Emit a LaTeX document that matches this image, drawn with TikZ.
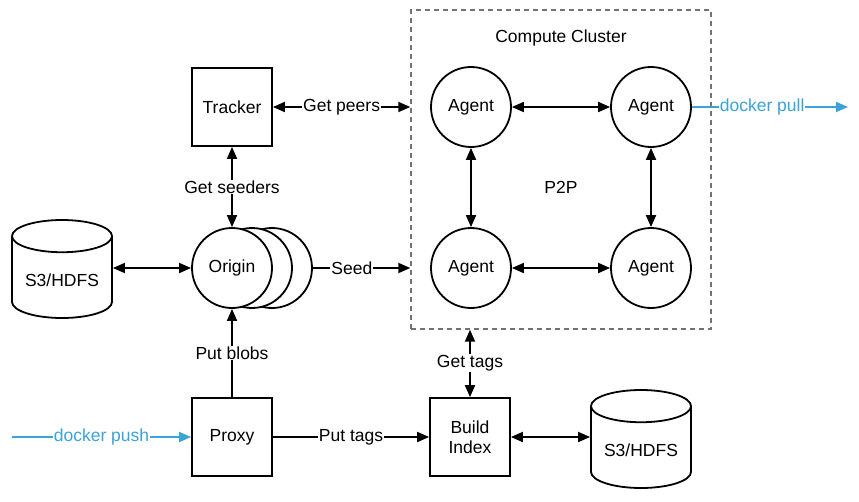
\documentclass[tikz,border=0pt]{standalone}
\usepackage{fontspec}
\setmainfont{Liberation Sans}
\usetikzlibrary{arrows.meta,shapes.geometric}
\definecolor{pushblue}{HTML}{3CA3D6}
\tikzset{
    box/.style = {draw, line width=1.8pt, minimum width=80pt, minimum height=78pt, align=center, fill=white},
    peer/.style = {draw, circle, line width=1.8pt, minimum size=80pt, inner sep=0pt, fill=white},
    store/.style = {draw, cylinder, shape border rotate=90, aspect=0.4, line width=1.8pt, minimum width=100pt, minimum height=98pt, anchor=shape center},
    link/.style = {line width=1.8pt, {Triangle[length=12pt,width=10pt]}-{Triangle[length=12pt,width=10pt]}},
    oneway/.style = {line width=1.8pt, -{Triangle[length=12pt,width=10pt]}},
    lbl/.style = {midway, fill=white, inner sep=1pt}
}
\begin{document}
\begin{tikzpicture}[x=1pt, y=-1pt, font=\fontsize{17.5}{20}\selectfont]
            \useasboundingbox (0,0) rectangle (859,501);
            % compute cluster
            \node [draw, gray!90!black, dash pattern=on 5pt off 4pt, line width=1.4pt, minimum width=300pt, minimum height=319pt] (cluster) at (561,169.5) {};
            \node (clustername) at (561,38) {Compute Cluster};
            \node (ptop) at (561,187) {P2P};
            \node [peer] (agentA) at (471,107) {Agent};
            \node [peer] (agentB) at (651,107) {Agent};
            \node [peer] (agentC) at (471,268) {Agent};
            \node [peer] (agentD) at (651,268) {Agent};
            % origin stack
            \node [peer] (origin3) at (272,268) {};
            \node [peer] (origin2) at (252,268) {};
            \node [peer] (origin) at (232,268) {Origin};
            \node [box] (tracker) at (232,107) {Tracker};
            \node [box] (proxy) at (232,437) {Proxy};
            \node [box] (build) at (470,437) {Build\\Index};
            \node [store] (storeL) at (62,269) {S3/HDFS};
            \node [store] (storeR) at (641,439) {S3/HDFS};
            \coordinate (pushstart) at (12,437);
            \coordinate (pullend) at (848,107);
            % connectors
            \draw [link] (tracker.east) -- (tracker -| cluster.west) node [lbl] {Get peers};
            \draw [link] (tracker.south) -- (origin.north) node [lbl] {Get seeders};
            \draw [link] (storeL.east |- origin) -- (origin.west);
            \draw [oneway] (origin3.east) -- (origin3 -| cluster.west) node [lbl, pos=0.4] {Seed};
            \draw [oneway] (proxy.north) -- (origin.south) node [lbl, pos=0.5] {Put blobs};
            \draw [oneway] (proxy.east) -- (build.west) node [lbl] {Put tags};
            \draw [link] (build.north) -- (build |- cluster.south) node [lbl] {Get tags};
            \draw [link] (build.east) -- (storeR.west |- build);
            \draw [link] (agentA) -- (agentB);
            \draw [link] (agentA) -- (agentC);
            \draw [link] (agentB) -- (agentD);
            \draw [link] (agentC) -- (agentD);
            \draw [oneway, pushblue] (pushstart) -- (proxy.west) node [lbl, text=pushblue] {docker push};
            \draw [oneway, pushblue] (agentB.east) -- (pullend) node [lbl, pos=0.45, text=pushblue] {docker pull};
        \end{tikzpicture}
\end{document}
